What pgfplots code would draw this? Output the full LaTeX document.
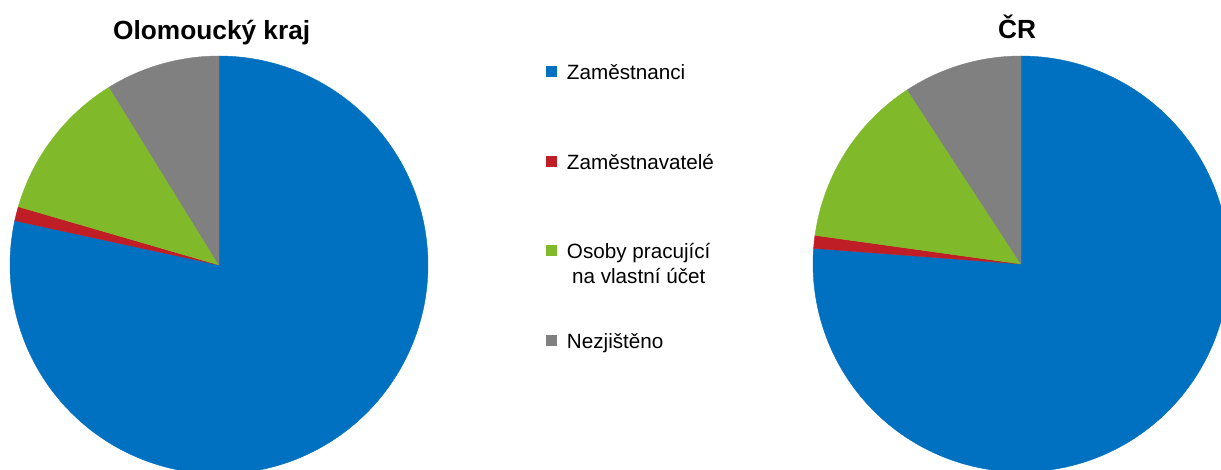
\documentclass[border=0pt]{standalone}
\usepackage{pgfplots}
\pgfplotsset{compat=1.18}
\usepackage{fontspec}
\setmainfont{Liberation Sans}
\definecolor{cBlue}{RGB}{0,112,192}
\definecolor{cRed}{RGB}{192,30,38}
\definecolor{cGreen}{RGB}{128,186,42}
\definecolor{cGray}{RGB}{128,128,128}
% \pieslice[opts]{cx}{cy}{r}{cumulative start %}{cumulative end %}{colour}
\newcommand{\pieslice}[7][]{%
  \addplot[fill=#7, draw=#7, line width=0.3pt, variable=\t,
    domain={90-3.6*(#6)}:{90-3.6*(#5)}, samples=150, #1]
    ({#2+#4*cos(\t)},{#3+#4*sin(\t)}) -- (axis cs:#2,#3) -- cycle;}
\newcommand{\lentry}[1]{\strut\smash{#1}}
\begin{document}
\begin{tikzpicture}
\useasboundingbox (0,0) rectangle (915.75pt,352.5pt);
\begin{axis}[
  at={(0,0)}, anchor=south west,
  width=915.75pt, height=352.5pt, scale only axis,
  xmin=0, xmax=1221, ymin=0, ymax=470,
  hide axis, clip=true,
  legend image code/.code={\fill[#1] (0pt,-2.9pt) rectangle (7.5pt,4.6pt);},
  legend cell align=left,
  legend style={at={(axis cs:546,407.3)}, anchor=north west,
    draw=none, fill=none, inner sep=0pt, row sep=53.6pt,
    nodes={inner sep=0pt},
    font=\fontsize{15.5pt}{17.5pt}\selectfont,
    /tikz/every odd column/.append style={column sep=7.7pt}},
]
% Olomoucky kraj: Zamestnanci 78.4, Zamestnavatele 1.1, OSVC 11.7, Nezjisteno 8.8 (%)
\pieslice{219}{205}{209}{0}{78.4}{cBlue}
\pieslice{219}{205}{209}{78.4}{79.5}{cRed}
\pieslice{219}{205}{209}{79.5}{91.2}{cGreen}
\pieslice{219}{205}{209}{91.2}{100}{cGray}
% CR: Zamestnanci 76.2, Zamestnavatele 1.0, OSVC 13.6, Nezjisteno 9.2 (%)
\pieslice[forget plot]{1021}{206}{208}{0}{76.2}{cBlue}
\pieslice[forget plot]{1021}{206}{208}{76.2}{77.2}{cRed}
\pieslice[forget plot]{1021}{206}{208}{77.2}{90.8}{cGreen}
\pieslice[forget plot]{1021}{206}{208}{90.8}{100}{cGray}
\legend{\lentry{Zaměstnanci},\lentry{Zaměstnavatelé},
  {\lentry{\begin{tabular}[t]{@{}c@{}}Osoby pracující\\[1pt]na vlastní účet\end{tabular}}},
  \lentry{Nezjištěno}}
\node[anchor=base, inner sep=0pt, font=\bfseries\fontsize{19.7pt}{23pt}\selectfont]
  at (axis cs:211.7,430.7) {Olomoucký kraj};
\node[anchor=base, inner sep=0pt, font=\bfseries\fontsize{19.7pt}{23pt}\selectfont]
  at (axis cs:1017,431.7) {ČR};
\end{axis}
\end{tikzpicture}
\end{document}
